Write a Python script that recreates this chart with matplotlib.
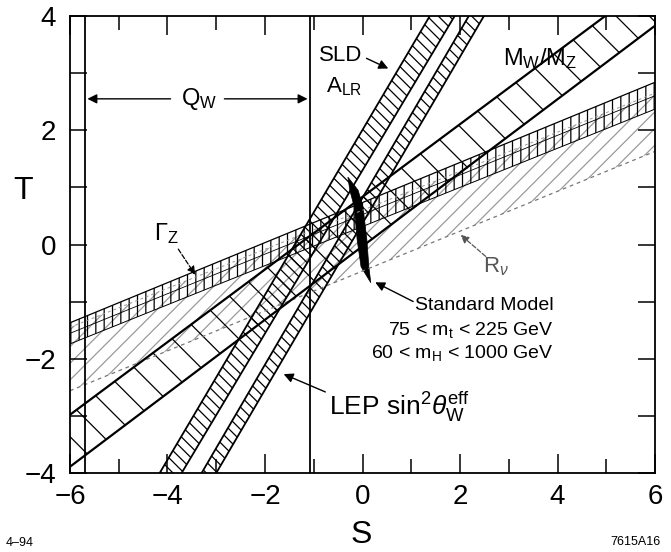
import numpy as np
import matplotlib
matplotlib.use("Agg")
import matplotlib.pyplot as plt
from matplotlib.ticker import MultipleLocator

plt.rcParams['font.family'] = ['Liberation Sans', 'DejaVu Sans']
plt.rcParams['mathtext.fontset'] = 'custom'
plt.rcParams['mathtext.rm'] = 'Liberation Sans'
plt.rcParams['mathtext.it'] = 'Liberation Sans:italic'
plt.rcParams['hatch.linewidth'] = 0.9

# band edges, T at S=-6 and S=6
s_ends = np.array([-6.0, 6.0])
gamma_z_hi = np.array([-1.37, 2.84])
gamma_z_lo = np.array([-1.74, 2.37])
rnu_hi = np.array([-1.45, 2.65])
rnu_lo = np.array([-2.56, 1.63])
mwmz_hi = np.array([-2.98, 4.65])
mwmz_lo = np.array([-3.89, 3.83])

# steep bands, S at T=-4 and T=4
t_ends = np.array([-4.0, 4.0])
sld_left = np.array([-4.16, 1.38])
sld_right = np.array([-3.71, 1.89])
lep_left = np.array([-3.30, 2.18])
lep_right = np.array([-3.00, 2.49])

# Q_W allowed range
qw_range = [-5.70, -1.07]

# standard model region outline
sm_s = [-0.30, -0.09, 0.01, 0.09, 0.13, 0.17, -0.03, -0.11, -0.17, -0.26]
sm_t = [1.18, 0.95, 0.66, 0.08, -0.39, -0.67, -0.39, 0.08, 0.66, 0.95]

fig = plt.figure(figsize=(6.71, 5.52), dpi=100)
ax = fig.add_axes([0.1043, 0.1431, 0.8719, 0.8279])

# R_nu (light dashed)
ax.fill_between(s_ends, rnu_lo, rnu_hi, facecolor='none', edgecolor='#9a9a9a',
                hatch='//', linewidth=0)
ax.plot(s_ends, rnu_lo, color='#777777', lw=0.9, ls=(0, (3, 3)))
ax.plot(s_ends, rnu_hi, color='#999999', lw=0.7, ls=(0, (3, 3)))

# Gamma_Z
ax.fill_between(s_ends, gamma_z_lo, gamma_z_hi, facecolor='none', edgecolor='k',
                hatch='||', linewidth=0)
ax.plot(s_ends, gamma_z_hi, color='k', lw=0.9)
ax.plot(s_ends, gamma_z_lo, color='k', lw=0.7)
ax.plot(s_ends, (gamma_z_hi + gamma_z_lo) / 2, color='k', lw=0.6)

# M_W/M_Z
ax.fill_between(s_ends, mwmz_lo, mwmz_hi, facecolor='none', edgecolor='k',
                hatch='\\', linewidth=0)
ax.plot(s_ends, mwmz_hi, color='k', lw=1.6)
ax.plot(s_ends, mwmz_lo, color='k', lw=1.6)

# SLD A_LR and LEP sin^2
for left, right in [(sld_left, sld_right), (lep_left, lep_right)]:
    ax.fill_betweenx(t_ends, left, right, facecolor='none', edgecolor='k',
                     hatch='\\\\\\', linewidth=0)
    ax.plot(left, t_ends, color='k', lw=1.3)
    ax.plot(right, t_ends, color='k', lw=1.3)

# Q_W lines
for s in qw_range:
    ax.axvline(s, color='k', lw=1.3)

# standard model
ax.fill(sm_s, sm_t, color='k', lw=0.5)

ax.set_xlim(-6, 6)
ax.set_ylim(-4, 4)
ax.xaxis.set_major_locator(MultipleLocator(2))
ax.xaxis.set_minor_locator(MultipleLocator(1))
ax.yaxis.set_major_locator(MultipleLocator(2))
ax.yaxis.set_minor_locator(MultipleLocator(1))
ax.tick_params(axis='both', which='both', direction='in', top=True, right=True,
               width=1.1, labelsize=20)
ax.tick_params(axis='x', which='major', length=14, pad=8)
ax.tick_params(axis='x', which='minor', length=10)
ax.tick_params(axis='y', which='both', length=12, pad=10)
for sp in ax.spines.values():
    sp.set_linewidth(1.3)

arrow_kw = dict(arrowstyle='-|>', color='k', lw=1.0, mutation_scale=14)

# labels
ax.text(-0.44, 3.30, 'SLD', fontsize=16, ha='center', va='center')
ax.text(-0.38, 2.76, r'A$_{\mathrm{LR}}$', fontsize=16, ha='center', va='center')
ax.annotate('', xy=(0.58, 3.06), xytext=(0.03, 3.28), arrowprops=arrow_kw)

ax.text(3.65, 3.25, r'M$_{\mathrm{W}}$/M$_{\mathrm{Z}}$', fontsize=17,
        ha='center', va='center')

ax.text(-3.36, 2.55, r'Q$_{\mathrm{W}}$', fontsize=17, ha='center', va='center')
ax.annotate('', xy=(qw_range[0], 2.55), xytext=(-3.88, 2.55), arrowprops=arrow_kw)
ax.annotate('', xy=(qw_range[1], 2.55), xytext=(-2.89, 2.55), arrowprops=arrow_kw)

ax.text(-4.02, 0.20, r'$\Gamma_{\mathrm{Z}}$', fontsize=17, ha='center', va='center')
ax.annotate('', xy=(-3.40, -0.57), xytext=(-3.81, -0.04),
            arrowprops=dict(arrowstyle='-|>', color='k', lw=0.9, ls='--',
                            mutation_scale=12))

ax.text(2.73, -0.38, r'R$_{\nu}$', fontsize=16, ha='center', va='center',
        color='#555555')
ax.annotate('', xy=(1.97, 0.20), xytext=(2.57, -0.24),
            arrowprops=dict(arrowstyle='-|>', color='#555555', lw=0.9, ls='--',
                            mutation_scale=12))

ax.text(3.92, -1.06, 'Standard Model', fontsize=14, ha='right', va='center')
ax.text(3.92, -1.50, r'75 < m$_{\mathrm{t}}$ < 225 GeV', fontsize=14,
        ha='right', va='center')
ax.text(3.92, -1.90, r'60 < m$_{\mathrm{H}}$ < 1000 GeV', fontsize=14,
        ha='right', va='center')
ax.annotate('', xy=(0.21, -0.64), xytext=(1.09, -1.02), arrowprops=arrow_kw)

ax.text(-0.69, -2.99,
        r'LEP sin$^{2}\theta_{\mathrm{W}}^{\mathrm{eff}}$',
        fontsize=19, ha='left', va='baseline')
ax.annotate('', xy=(-1.67, -2.25), xytext=(-0.71, -2.60), arrowprops=arrow_kw)

fig.text(0.034, 0.654, 'T', fontsize=23, ha='center', va='center')
fig.text(0.539, 0.031, 'S', fontsize=23, ha='center', va='center')
fig.text(0.008, 0.016, '4\u201394', fontsize=9, ha='left', va='center')
fig.text(0.984, 0.018, '7615A16', fontsize=9, ha='right', va='center')

fig.savefig('out.png', dpi=100)
